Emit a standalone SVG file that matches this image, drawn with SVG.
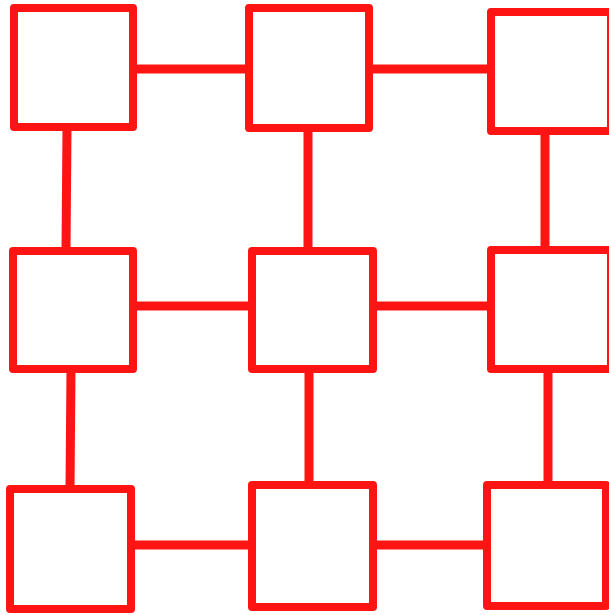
<svg xmlns="http://www.w3.org/2000/svg" width="609" height="615" viewBox="0 0 609 615">
<style>
.node{fill:#ffffff;stroke:#ff1414;stroke-width:8;stroke-linejoin:round}
.edge{stroke:#ff1414;stroke-width:9;fill:none}
</style>
<rect width="609" height="615" fill="#ffffff"/>
<g id="connectors">
<line class="edge" x1="133" y1="69" x2="249" y2="69"/>
<line class="edge" x1="369" y1="69" x2="491" y2="69"/>
<line class="edge" x1="133" y1="306" x2="252" y2="306"/>
<line class="edge" x1="373" y1="306" x2="491" y2="306"/>
<line class="edge" x1="131" y1="545" x2="252" y2="545"/>
<line class="edge" x1="373" y1="545" x2="487" y2="545"/>
<line class="edge" x1="67" y1="127" x2="66" y2="251"/>
<line class="edge" x1="71" y1="369" x2="70" y2="489"/>
<line class="edge" x1="308" y1="128" x2="308" y2="251"/>
<line class="edge" x1="309" y1="369" x2="309" y2="485"/>
<line class="edge" x1="545" y1="131" x2="545" y2="250"/>
<line class="edge" x1="548" y1="369" x2="548" y2="485"/>
</g>
<g id="n1"><rect class="node" x="14" y="8" width="119" height="119"/></g>
<g id="n2"><rect class="node" x="249" y="8" width="120" height="120"/></g>
<g id="n3"><rect class="node" x="491" y="12" width="120" height="119"/></g>
<g id="n4"><rect class="node" x="13" y="251" width="120" height="118"/></g>
<g id="n5"><rect class="node" x="252" y="251" width="121" height="118"/></g>
<g id="n6"><rect class="node" x="491" y="250" width="120" height="119"/></g>
<g id="n7"><rect class="node" x="10" y="489" width="121" height="120"/></g>
<g id="n8"><rect class="node" x="252" y="485" width="121" height="122"/></g>
<g id="n9"><rect class="node" x="487" y="485" width="119" height="121"/></g>
</svg>
